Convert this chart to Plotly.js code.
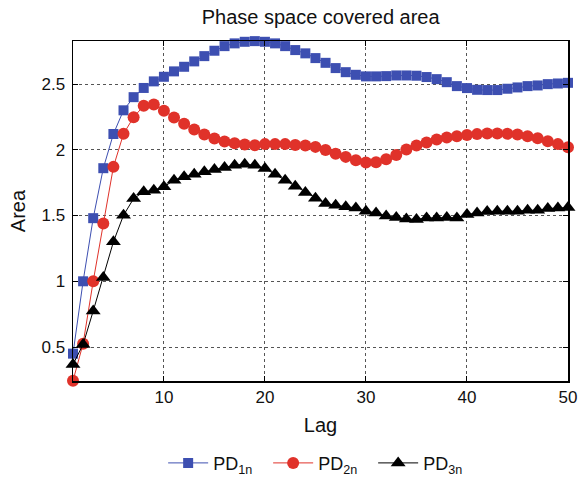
<!DOCTYPE html>
<html>
<head>
<meta charset="utf-8">
<script src="https://cdn.plot.ly/plotly-3.0.1.min.js"></script>
<style>html,body{margin:0;padding:0;background:#fff;}#chart{width:583px;height:481px;}</style>
</head>
<body>
<div id="chart"></div>
<script>
const lag = Array.from({length: 50}, (_, i) => i + 1);

const pd1n = [0.45, 1.00, 1.48, 1.86, 2.12, 2.30, 2.40, 2.47, 2.52, 2.555,
  2.596, 2.631, 2.672, 2.712, 2.753, 2.788, 2.809, 2.821, 2.826, 2.821,
  2.809, 2.788, 2.758, 2.733, 2.697, 2.661, 2.621, 2.59, 2.570, 2.558,
  2.558, 2.560, 2.565, 2.565, 2.563, 2.553, 2.537, 2.514, 2.484, 2.469,
  2.456, 2.454, 2.454, 2.464, 2.474, 2.484, 2.489, 2.499, 2.504, 2.509];

const pd2n = [0.244, 0.526, 1.00, 1.44, 1.87, 2.121, 2.248, 2.334, 2.345, 2.296,
  2.246, 2.197, 2.154, 2.116, 2.086, 2.063, 2.05, 2.04, 2.035, 2.043,
  2.043, 2.043, 2.037, 2.033, 2.022, 1.999, 1.969, 1.946, 1.921, 1.903,
  1.906, 1.928, 1.961, 2.002, 2.033, 2.055, 2.078, 2.094, 2.103, 2.113,
  2.119, 2.124, 2.124, 2.121, 2.116, 2.103, 2.088, 2.065, 2.043, 2.02];

const pd3n = [0.368, 0.52, 0.774, 1.028, 1.30, 1.502, 1.629, 1.68, 1.693, 1.718,
  1.769, 1.794, 1.814, 1.832, 1.85, 1.865, 1.883, 1.89, 1.883, 1.858,
  1.814, 1.769, 1.723, 1.676, 1.632, 1.591, 1.578, 1.566, 1.558, 1.533,
  1.52, 1.497, 1.485, 1.474, 1.47, 1.482, 1.482, 1.485, 1.482, 1.508,
  1.52, 1.53, 1.533, 1.533, 1.533, 1.54, 1.54, 1.553, 1.558, 1.561];

const seriesNames = ['PD<sub>1n</sub>', 'PD<sub>2n</sub>', 'PD<sub>3n</sub>'];
const xTicks = [10, 20, 30, 40, 50];
const yTicks = [0.5, 1, 1.5, 2, 2.5];

const font = 'Liberation Sans, Arial, Helvetica, sans-serif';

const traces = [
  {x: lag, y: pd1n, name: seriesNames[0], mode: 'lines+markers', cliponaxis: false,
   line: {color: '#3d4fb1', width: 1}, marker: {symbol: 'square', size: 10, color: '#3d4fb1'}},
  {x: lag, y: pd2n, name: seriesNames[1], mode: 'lines+markers', cliponaxis: false,
   line: {color: '#e0322a', width: 1}, marker: {symbol: 'circle', size: 12, color: '#e0322a'}},
  {x: lag, y: pd3n, name: seriesNames[2], mode: 'lines+markers', cliponaxis: false,
   line: {color: '#000000', width: 1}, marker: {symbol: 'triangle-up', size: 13, color: '#000000'}}
];

const axisCommon = {
  automargin: false,
  showline: true, linecolor: '#000', linewidth: 1.5, mirror: 'ticks',
  ticks: 'inside', ticklen: 5, tickcolor: '#000', tickwidth: 1,
  showgrid: true, gridcolor: '#555', gridwidth: 1, griddash: 'dot',
  zeroline: false, tickfont: {family: font, size: 17, color: '#111'}
};

const layout = {
  width: 583, height: 481,
  margin: {l: 73, r: 15, t: 41, b: 100, autoexpand: false},
  paper_bgcolor: '#fff', plot_bgcolor: '#fff',
  font: {family: font, color: '#111'},
  title: {text: 'Phase space covered area', font: {family: font, size: 20, color: '#111'},
          x: 0.55, xanchor: 'center', y: 0.964, yanchor: 'middle'},
  xaxis: Object.assign({}, axisCommon, {
    range: [1, 50], tickvals: xTicks, ticktext: xTicks.map(String),
    title: {text: 'Lag', font: {family: font, size: 20, color: '#111'}, standoff: 12}
  }),
  yaxis: Object.assign({}, axisCommon, {
    range: [0.242, 2.827], tickvals: yTicks, ticktext: yTicks.map(String),
    ticklabelstandoff: 3,
    title: {text: 'Area', font: {family: font, size: 20, color: '#111'}, standoff: 10}
  }),
  showlegend: true,
  legend: {orientation: 'h', x: 0.55, xref: 'container', xanchor: 'center',
           y: 0.037, yref: 'container', yanchor: 'middle',
           itemwidth: 40, entrywidth: 50, entrywidthmode: 'pixels',
           font: {family: font, size: 18, color: '#111'}, bgcolor: 'rgba(0,0,0,0)'}
};

Plotly.newPlot('chart', traces, layout, {displayModeBar: false, staticPlot: true});
</script>
</body>
</html>
